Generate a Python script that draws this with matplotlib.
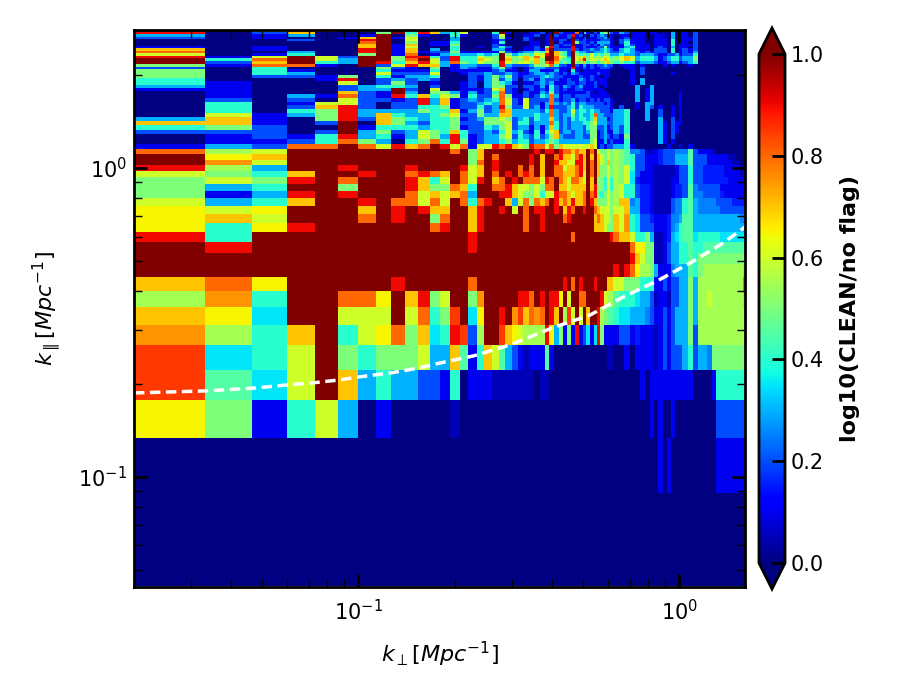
import re
import numpy as np
import matplotlib
matplotlib.use("Agg")
import matplotlib.pyplot as plt

dk_perp = 1 / 75
dk_par = 0.0444
horizon_perp = [.02, .0333, .0466, .0599, .0733, .0870, .1004, .1273, .1545, .1795, .2276, .2967, .4011, .5268, .6674, .8517, 1.0796, 1.3677, 1.6]
horizon_par = [.1870, .1898, .1936, .1985, .2020, .2060, .2107, .2175, .2253, .2338, .2463, .2675, .3036, .3344, .3824, .4309, .4928, .5720, .6442]
cbar_ticks = [0.0, 0.2, 0.4, 0.6, 0.8, 1.0]

# digit = tenths, a = 1.0, '+' adds 0.05. Section: modes 2-13 | 14-46 | 47-76 by 2s, 77-121 by 3s
rows_top = [
"a0788034a5a62|619000 5a300 0030 0a30119 1520426783 1|475211001010501103000000000000",
"902700 05a497 0|346000 4a100 0112 01a2111 8 141021454 21|132111011010301102000000000000",
"301300 1a0510 0|041000 26000 1120 1a21129 1210212321 1|011111001110301102000000000000",
"201 001 7a1600 0|030000 25100 2100 1a11 12a 1120112232 1|012111001110301112000000000000",
"0002 009a0600 0|030000 12000 2100 1a12 20a 2121111222 1|023111001110401112000000000000",
"00000 08a0501|140000 14000 0110 1a02 11a 5221213333 1|024111001110401102000000000000",
"00000 07a1701|150000 21000 0110 1a21 22a 1122121322 1|014211101110401112000000000000",
"10100 07a1600|040010 24200 1120 5921 119 1121112252 1|113411101210301102000000000000",
"7010 009a1703|040000 33100 1121 8a22 229 2122322343 2|134311102220401212000000000000",
"80030 09a1712|251111 15212 3354 7a75 42a 4332233343 2|234321212220401213000000000000",
"60140 05a1801|343343 4a534 5466 9a75 42a 5454645455 3|343323332112231224000000000000",
"916a6 2aa5994|294465 5a656 7586 aa86 53a 6675656566 4|567634443123442335000000000000",
"a48a6 3aa58a6|294476 5a755 7675 aa85 44a 6795665676 5|567634443123442335000000000000",
"a27a4 3a9479 6|385465 59656 6575 8974 54a 5574554567 5|454423332112331234000000000000",
"518810 a26977|313322 49322 2355 6842 21a 2131212232 2|011101000010100010000000000000",
"2040000 5210 5|013211 35210 1233 2221 119 1121211222 1|001102000000000000000000000000",
"5041000 4111 4|011111 23110 1331 1131 104 1011111111 0|000102000000000000000000000000",
"5043000 6222 6|001223 22321 1233 2321 213 2111112111 0|000102000000100000000000000000",
"502 21504 1334|000213 53521 2223 4322 111 1211211011 0|000100000000000000000000000000",
"400 01902 3232|000213 52420 2313 2221 121 1321211110 0|000103000000000000000000000000",
"4100 06025 201|001203 54310 1123 2311 122 1221121110 0|000103000000000000000000000000",
"31000 23443 02|001203 55220 2213 1421 321 2311121010 0|000030030000000000000000000000",
"11000 233 a206|001 1126 7210 1212 1421 211 2211111100 0|000030130000000000000000000000",
"0100 072 1a305|531312 48210 2113 2521 111 1112101110 0|000030130000001000000000000000",
"0103 182 19474|651422 58511 2124 3831 221 2222111111 0|000030130000001000000000000000",
"0202 062 21293|712323 48621 6222 2821 223 1221212122 1|000030130000001000000000000000",
"0401 662 02293|712234 38621 6221 3832 324 2332222212 1|000010330000001000000000000000",
"0402 792 02244|512242 39522 6231 3922 234 2433322222 1|020010320100101000000000000000",
"0404 593 33354|471352 38733 3332 4832 236 3443433222 1|334000300200101000000000000000",
"0613 593 74334|562253 37733 3343 3832 335 3433483322 2|334000300200101000000000000000",
"3710 592 75434|451235 56523 4243 3732 324 3443473331 2|334000300300201000000000000000",
"7710 2a0 75324|452225 55624 4233 3842 323 3344563332 2|334000000310211000000000000000",
"4520 0a1 44434|451224 35623 3131 3742 323 3324552231 2|324000000310210000000000000000",
"2220 2a3 52365|474223 24634 2141 4672 332 3323551231 1|324000000310210000000000000000",
]
rows_mid = [
"0121 493 41365|394123 35624 3242 3573 222 3322551232 1|215000000310200000000000000000",
"0112 485 30458|495123 34534 4233 4543 333 3333561131 2|114000000310100000000000000000",
"1 3 2 8 8 a 8 6 9 7 8 a|968166 98976 5988 6857 666 6666761212|334100000001001010000000000000",
"8 5+ 6 a a a a a a a a a|a8a57a aaaaa aa9a 99a9 887 8 77a8a65565|5+ 5 4+ 2+ 2+ 2 0+ 0+ 1 1+ 2 2 2 2+ 2+ 2+ 4+ 2 1 1 1 0+ 0 0 0 0 0 0 0 0",
"a 6+ 7 a a a a a a a a a|aaa57a 8aaaa a9a7 aa89 776 8 97a7a76565|5+ 5 4+ 4 2 2 1 1 1 1+ 2 2 2 3 3 3 4+ 2 2 2 1 1 1 1 1 0+ 0+ 0 0 0",
"a 7+ 6 a a a a a a a a a|aaa58a 9aaaa a9a7 aa97 766 9 97a8a76575|5+ 5 4+ 4 2 2 1 1 1 1+ 2 2 2 3 3 3 4+ 2 2 2 1 1 1 1 1 1 0+ 0+ 0 0",
"9 5+ 3 a a 9 a a a 9 a a|aa967a 9aaa8 a8a7 aa88 677 8 97a8a75565|5+ 5 6 4 2 2 1 1 0+ 0+ 0+ 0+ 0+ 1 2 2 4 2 2 1+ 1+ 1+ 1+ 1+ 1 1 1 1 0+ 0+",
"6 5 4 7 a a 9 a a 8 9 8|7a867a 8a9a8 98a7 aa88 777 8 96a8a75565|5+ 5 6 3+ 2 1 1 1 0+ 0+ 0+ 0+ 0+ 1 2 2 4 2 2 1+ 1+ 1+ 1+ 1+ 1 1 1 1 0+ 1",
"5 6 5 9 a 8 a a a 9 7 4|6a869a 78a9a 8886 98a8 768 8 76a7a55464|5+ 5 6 3+ 1+ 1 1 1 0+ 0+ 0+ 0+ 1 1 2 2 4 2 2 1+ 1+ 1+ 1+ 1+ 1+ 1 1 1 1 1",
"5 3 4 a a 5 a a a 9 7 5|58 74aa 8897 6 6565 88a7 767 7 77a7955464|5+ 6 4 4 2 1+ 1+ 1 0+ 0+ 0+ 0+ 1 1+ 1+ 2 4+ 2+ 2 2 2 2 2 1 1 1 1 1 1 1",
"5 1 3 9 a 9 a a a 8 6 7|678 3aa a997 6 5564 6698 876 7 78a8954565|5+ 6 4 4 2 1+ 1+ 1 0+ 0+ 0+ 0+ 1 1+ 1+ 2 4+ 2+ 2+ 2 2 2 2 1+ 1 1 1 1 1 1",
"6 3 4 7 a a 9 a 8 8 6 8|6a84 89aa73 6 8587 8a97 879 7 78a9755565|5+ 7 7 2+ 3 1+ 1+ 1 0+ 0+ 0+ 0+ 2 2+ 2+ 4 4+ 3 2+ 2+ 2+ 2+ 2 2 2 2 1+ 1+ 1+ 1+",
"6+ 6 6+ a a a 7 a 9 a 9 7|7aa7 9aa9a6 a 8a99 aa9a 798 a a9aa876665|6 6 7 3 3 1+ 1+ 1 0+ 0+ 0+ 0+ 2 2+ 2+ 4 4+ 3 2+ 2+ 2+ 2+ 2+ 2 2 2 2 2 2 2",
"6+ 7 6 a a a 8 a 9 a a 5|8aa7 9aaaaa a 8aa9 aaaa 89a a aaaa787665|7 6 7+ 4 3+ 2 2 1+ 1 1 1 1+ 2+ 2+ 3 4+ 4+ 3 3 3 3 3 3 3 3 3 3 3 2+ 2+",
"6+ 4 6+ 9 a a a a a a a 8|9aa79 aaaaaa 8aa9 aaaa aaa a aaaa777655|7 6 7+ 4 3+ 2 2 2 1 1 1 1+ 2+ 3 4 4+ 4+ 3 3 3 3 3 3 3 3 3 3 3 3 3",
"9 4 a a a a a a a a a a|aaa9aaaaaaa aaaaaaaaaa8 aaaaaaaaaa9|8 7 7 6 4 4 5 3 0+ 0+ 1 1+ 3 3+ 4 4+ 4+ 3+ 4 4 4 4 4 3+ 3+ 3+ 3+ 3+ 3+ 3+",
]
rows_low = [
"a 9 a a a a a a a a a a|aaa9aaaaaaaaaaaaaaaaaaaaaaaaaaaaa|a a a 8 6+ 6+ 5 5 0+ 0+ 1 2 3 3 4 4 4+ 4 4 4+ 4+ 4+ 4+ 4+ 4+ 4+ 4+ 4+ 4+ 4+",
"a a a a a a a a a a a a|aaaaaaaaaaaaaaaaaaaaaaaaaaaaaaaaa|a a a 9 7 6 5 5 0+ 0+ 1 2 3 3 4 4 4+ 4 5 5 5 5 5 5 5 5 5 5 5 5",
"a a a a a a a a a a a a|aaaaaaaaaaaaaaaaaaaaaaaaaaaaaaaaa|9 a 9 8 6+ 5+ 5+ 5 3 1 1 1 2+ 3 3 3 4+ 4 5 5+ 5+ 5+ 5+ 5+ 5+ 5+ 5+ 5+ 5+ 7",
"7 8 6+ a a a a a 9 a a a|aaa8aaaaaaaaaaaaaaa9a8a9aaa9aaa77|6 6 5 5 5 4 4 4 1 1 2 1 2 2 3 3 5 3 5+ 5+ 5+ 5+ 5+ 5+ 5+ 5+ 5+ 5+ 5+ 8",
"5+ 7+ 4 a a 8 8 6+ a 7 9 5|6aa5 7+ aaaaa9 98a9a99 6+ a6a a88aaaa9 6 5+ 5+|4+ 4 4 4 3+ 3 3 2 0+ 1 1 0+ 2 2 3 3 5 3 5+ 5+ 6 5+ 5+ 5+ 5+ 5+ 5+ 5+ 5+ 7",
"7 6+ 3+ a a 6 6 6 a 6 8 4|5 8+ a 3+ 6+ aa9a 7+ 8+ 7 8 7+ 8 a97a 5+ 8+ 6a6a7aa9 5+ 5 4+|4 3+ 3+ 3 3 3 2+ 2 1 1 2 1 2 3 3 3 5 3 5+ 5+ 5+ 5+ 5+ 5+ 5+ 5+ 5+ 5+ 5+ 5+",
"7+ 5+ 4 7 a 4 6 6+ 8 5 7 3+|49 8+ 2 5+ aa 8+ 7 6+ 6 5+ 5+ 5+ 5+ 9 6+ 3 5 1 5 1 9 1 2 3+ 1 3+ 9 5 1 1 1|1 2 2 1 1+ 1 1 1 0+ 1 2 1 2 3 3 3 5 2 5+ 5+ 5+ 5+ 5+ 5+ 5+ 5+ 5+ 5+ 5+ 5+",
"8+ 3+ 4 6 a 5 4 5 5 5 6 3|3 7 4+ 1 4 7 6 4+ 3 2 1 0+ 1 1 1 4+ 1 0 0 0 0 0 0 0 0 0 0 0 0 0 0 0+ 0+|0 0 1 0 1 1 1 1 0+ 1 2 1 2 2 2 3 4 2 3 3 2+ 5 5 5 5 5 5 5 5 5",
"8+ 4+ 3+ 6 a 7 3 4 3 3 2 2|1 4 0 1 1 1 0+ 0+ 0+ 0+ 0+ 0+ 0+ 0 0+ 0+ 0 0 0 0 0 0 0 0 0 0 0 0 0 0 0 0 0|000001011111111110000144444444",
"6+ 5 1 4 6 3 0 1 0 0 0 0|0 0+ 0 0 0 0 0 0 0 0 0 0 0 0 0 0 0 0 0 0 0 0 0 0 0 0 0 0 0 0 0 0 0|000000010100100000000022222222",
"0 0 0 0 0 0 0 0 0 0 0 0|000000000000000000000000000000000|000000000101000000000011111111",
"0 0 0 0 0 0 0 0 0 0 0 0|000000000000000000000000000000000|000000000000000000000000000000",
]

def parse(s, n):
    v = [(1.0 if c == 'a' else int(c) / 10) + (0.05 if p else 0)
         for c, p in re.findall(r'([0-9a])(\+?)', s)]
    return (v + [v[-1] if v else 0] * n)[:n]

def row(s):
    a, b, c = s.split('|')
    r = parse(c, 30)
    return parse(a, 12) + parse(b, 33) + [x for x in r[:15] for _ in range(2)] + [x for x in r[15:] for _ in range(3)]

grid = np.array([row(s) for s in rows_top + rows_mid + rows_low])[::-1]
x_edges = (np.arange(2, 123) - 0.5) * dk_perp
y_edges = np.arange(1, 64) * dk_par

fig = plt.figure(figsize=(9, 7), dpi=100)
ax = fig.add_axes([134 / 900, 1 - 587 / 700, 611 / 900, 557 / 700])
mesh = ax.pcolormesh(x_edges, y_edges, grid, cmap='jet', vmin=0, vmax=1, shading='flat')
ax.plot(horizon_perp, horizon_par, color='white', lw=2.5, dashes=(3, 1.6))
ax.set_xscale('log')
ax.set_yscale('log')
ax.set_xlim(0.02, 1.6)
ax.set_ylim(0.044, 2.8)
ax.set_xlabel(r'$k_{\perp}[Mpc^{-1}]$', fontsize=16, labelpad=11)
ax.set_ylabel(r'$k_{\parallel}[Mpc^{-1}]$', fontsize=16, labelpad=11)
ax.tick_params(which='major', direction='in', length=9.5, width=2, top=True, right=True, labelsize=15)
ax.tick_params(axis='x', which='major', pad=9)
ax.tick_params(axis='y', which='major', pad=5)
ax.tick_params(which='minor', direction='in', length=5.5, width=1, top=True, right=True)
for s in ax.spines.values():
    s.set_linewidth(2)

cax = fig.add_axes([759 / 900, 1 - 589 / 700, 26 / 900, 561 / 700])
cb = fig.colorbar(mesh, cax=cax, extend='both', extendfrac=0.051, ticks=cbar_ticks)
cb.outline.set_linewidth(2)
cb.ax.tick_params(direction='in', length=9.5, width=2, labelsize=15, pad=4)
cb.set_label('log10(CLEAN/no flag)', fontsize=16, fontweight='bold', labelpad=12)
fig.savefig('out.png', dpi=100)
